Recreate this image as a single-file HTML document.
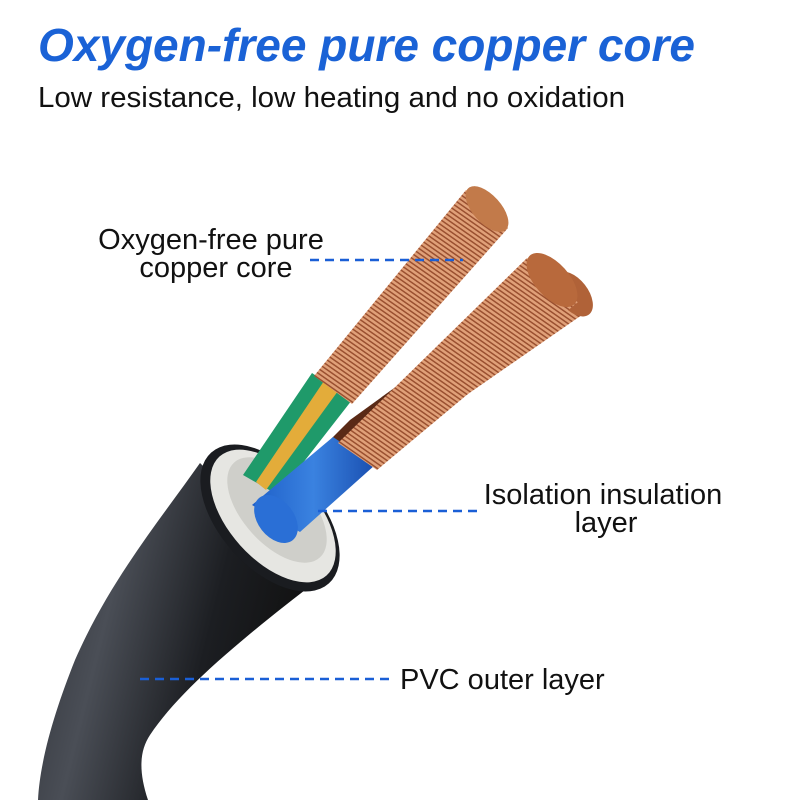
<!DOCTYPE html>
<html><head><meta charset="utf-8"><style>
html,body{margin:0;padding:0;background:#fff;width:800px;height:800px;overflow:hidden}
svg{display:block}
</style></head><body>
<svg width="800" height="800" viewBox="0 0 800 800" xmlns="http://www.w3.org/2000/svg">
<defs>
<linearGradient id="blk" x1="0" y1="0" x2="1" y2="0.3">
<stop offset="0" stop-color="#2a2d33"/><stop offset="0.35" stop-color="#4a4e56"/><stop offset="0.7" stop-color="#1c1e22"/><stop offset="1" stop-color="#111"/>
</linearGradient>
<pattern id="cu" width="4" height="4" patternUnits="userSpaceOnUse" patternTransform="rotate(-55)">
<rect width="4" height="4" fill="#e0a078"/><rect width="1.5" height="4" fill="#9a5030"/>
</pattern>
<linearGradient id="blu" x1="0" y1="0" x2="1" y2="0"><stop offset="0" stop-color="#1e5fc8"/><stop offset="0.5" stop-color="#3a82e0"/><stop offset="1" stop-color="#1a4fb0"/></linearGradient>
</defs>
<text x="38" y="61" font-family="Liberation Sans, sans-serif" font-size="46" font-weight="bold" font-style="italic" fill="#1a62d6" textLength="657" lengthAdjust="spacingAndGlyphs">Oxygen-free pure copper core</text>
<text x="38" y="107" font-family="Liberation Sans, sans-serif" font-size="29" fill="#111" textLength="587" lengthAdjust="spacingAndGlyphs">Low resistance, low heating and no oxidation</text>

<path d="M200,463 C160,520 110,580 75,660 C55,710 40,760 38,800 L148,800 C138,770 140,750 150,735 C180,690 240,640 318,580 Z" fill="url(#blk)"/>
<ellipse cx="270" cy="518" rx="50" ry="88" transform="rotate(-42 270 518)" fill="#1a1c20"/>
<ellipse cx="273" cy="516" rx="44" ry="80" transform="rotate(-42 273 516)" fill="#e6e6e2"/>
<ellipse cx="277" cy="510" rx="34" ry="64" transform="rotate(-42 277 510)" fill="#cfcfca"/>

<path d="M310,500 L380,455 L592,305 L560,268 L350,420 L300,470 Z" fill="#5a2a16"/>
<path d="M380,455 L592,308 L560,272 L360,425 Z" fill="url(#cu)"/>
<ellipse cx="573" cy="294" rx="15" ry="26" transform="rotate(-38 573 294)" fill="#b06238"/>

<path d="M243,475 L312,373 L352,400 L278,495 Z" fill="#1f9a6a"/>
<path d="M256,482 L324,381 L338,391 L266,490 Z" fill="#e3ac3a"/>
<path d="M314,376 L466,190 L508,228 L352,404 Z" fill="url(#cu)"/>
<ellipse cx="487" cy="209" rx="14" ry="28" transform="rotate(-42 487 209)" fill="#c27a4a"/>

<path d="M252,505 L333,437 L375,465 L300,532 Z" fill="url(#blu)"/>
<ellipse cx="276" cy="519" rx="18" ry="27" transform="rotate(-38 276 519)" fill="#2a6fd6"/>
<path d="M338,443 L527,258 L578,302 L377,470 Z" fill="url(#cu)"/>
<ellipse cx="552" cy="280" rx="17" ry="33" transform="rotate(-42 552 280)" fill="#b8693c"/>

<g font-family="Liberation Sans, sans-serif" font-size="29" fill="#111">
<text x="211" y="249" text-anchor="middle">Oxygen-free pure</text>
<text x="216" y="277" text-anchor="middle">copper core</text>
<text x="603" y="504" text-anchor="middle">Isolation insulation</text>
<text x="606" y="532" text-anchor="middle">layer</text>
<text x="400" y="689">PVC outer layer</text>
</g>
<g stroke="#1a5fd6" stroke-width="2.5" stroke-dasharray="9,6">
<line x1="310" y1="260" x2="463" y2="260"/>
<line x1="318" y1="511" x2="480" y2="511"/>
<line x1="140" y1="679" x2="390" y2="679"/>
</g>
</svg>
</body></html>
